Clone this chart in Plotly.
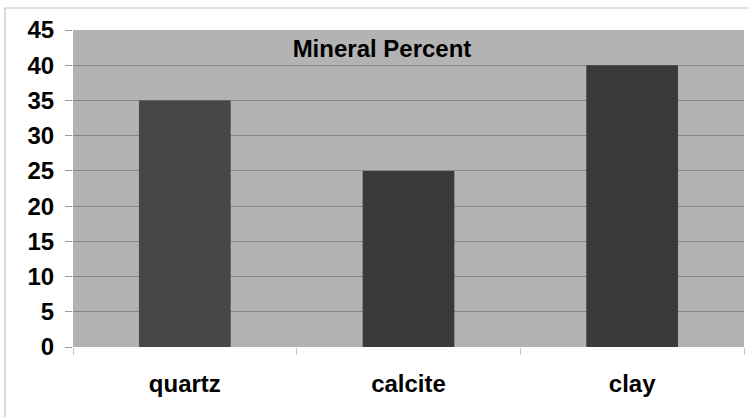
import plotly.graph_objects as go

categories = ["quartz", "calcite", "clay"]
values = [35, 25, 40]
bar_colors = ["#474747", "#3a3a3a", "#3a3a3a"]
y_ticks = [0, 5, 10, 15, 20, 25, 30, 35, 40, 45]

W, H = 749, 417
L, R, T, B = 73, 5, 30, 70
pw, ph = W - L - R, H - T - B

def px_x(px):
    return (px - L) / pw

def px_y(py):
    return (H - B - py) / ph

fig = go.Figure(go.Bar(x=categories, y=values, marker=dict(color=bar_colors, line=dict(width=0)), width=0.41))

font = "Liberation Sans, Arial, sans-serif"
tf = dict(family=font, size=24, color="black", weight="bold")
fig.update_layout(
    width=W, height=H,
    margin=dict(l=L, r=R, t=T, b=B, autoexpand=False),
    paper_bgcolor="white",
    plot_bgcolor="#b3b3b3",
    showlegend=False,
    title=dict(text="<b>Mineral Percent</b>", x=px_x(382), xref="paper", xanchor="center",
               y=px_y(49), yref="paper", yanchor="middle", automargin=False,
               font=dict(family=font, size=24, color="black")),
    xaxis=dict(tickfont=tf, automargin=False,
               ticks="outside", ticklen=7, tickcolor="#c8c8c8", tickson="boundaries",
               showline=False, showgrid=False, ticklabelstandoff=20),
    yaxis=dict(range=[0, 45], tickvals=y_ticks, tickfont=tf, automargin=False,
               ticks="outside", ticklen=7, tickcolor="#999999", ticklabelstandoff=6,
               showgrid=True, gridcolor="#878787", gridwidth=1, zeroline=False, showline=False),
    shapes=[dict(type="rect", xref="paper", yref="paper",
                 x0=px_x(5), x1=px_x(770), y0=px_y(440), y1=px_y(8),
                 line=dict(color="#c4c4c4", width=1.2), fillcolor="rgba(0,0,0,0)", layer="below")],
)

fig.write_html("out.html", config={"displayModeBar": False},
               post_script="document.body.style.margin='0px';")
